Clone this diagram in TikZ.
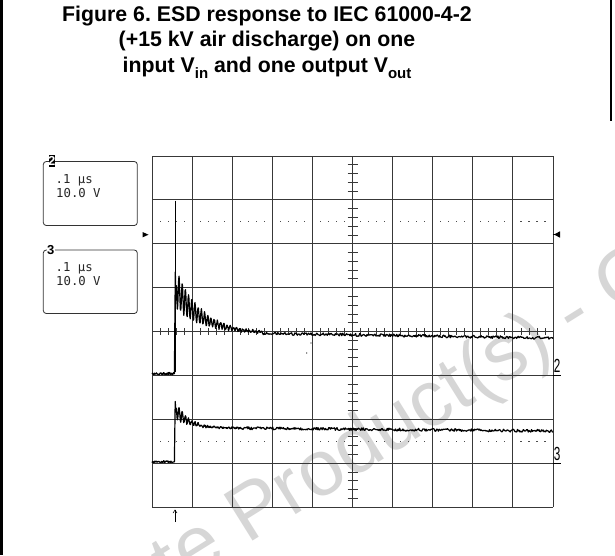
\documentclass[tikz,border=0pt]{standalone}
\usepackage{fontspec}
\setmainfont{Liberation Sans}
\newfontfamily\scopemono{DejaVu Sans Mono}
\usetikzlibrary{arrows.meta}
\frenchspacing
\begin{document}
\begin{tikzpicture}[x=1pt,y=1pt,line join=round,
  gridline/.style={draw=black!78,line width=0.9pt},
  tickline/.style={draw=black!78,line width=0.8pt},
  trace/.style={draw=black,line width=1.2pt},
  infobox/.style={draw=black!80,line width=0.8pt,rounded corners=3pt},
  infotext/.style={font=\scopemono\fontsize{12.3}{14}\selectfont,anchor=base west,inner sep=0pt,text=black!85},
  titletext/.style={font=\bfseries\fontsize{21.3}{25}\selectfont,anchor=base,inner sep=0pt},
  gndlabel/.style={anchor=base west,inner sep=0pt,font=\fontsize{19}{19}\selectfont}]
\useasboundingbox (0,0) rectangle (615,-555);
\fill[white] (0,0) rectangle (615,-555);
% watermark
\begin{scope}
\clip (0,0) rectangle (615,-555);
\node[anchor=base west,rotate=32,text=black!16,inner sep=0pt,font=\fontsize{79}{79}\selectfont] (wm) at (-39.7,-724.2) {Obsolete Product(s) - Obsolete Product(s)};
\end{scope}
% frame
\draw[line width=2.5pt] (1.25,0) -- (1.25,-555);
\draw[line width=2pt] (611,0) -- (611,-121);
% title
\node[titletext] (t1) at (267,-21) {Figure 6. ESD response to IEC 61000-4-2};
\node[titletext] (t2) at (267,-46.5) {(+15 kV air discharge) on one};
\node[titletext] (t3) at (267,-72) {input V\raisebox{-0.3em}{\fontsize{15}{15}\selectfont in} and one output V\raisebox{-0.3em}{\fontsize{15}{15}\selectfont out}};
% grid
\foreach \i in {0,...,10} \draw[gridline] ({152+\i*40.1},-156) -- ({152+\i*40.1},-507);
\foreach \j in {0,...,8} \draw[gridline] (152,{-156-\j*43.875}) -- (553,{-156-\j*43.875});
% center ticks
\foreach \k in {1,...,39} {
  \pgfmathtruncatemacro\m{mod(\k,5)}
  \ifnum\m>0 \draw[tickline] (347.5,{-156-\k*8.775}) -- (357.5,{-156-\k*8.775}); \fi
}
\foreach \k in {1,...,49} {
  \pgfmathtruncatemacro\m{mod(\k,5)}
  \ifnum\m>0 \draw[tickline] ({152+\k*8.02},-328) -- ({152+\k*8.02},-335); \fi
}
% dotted level lines
\foreach \k in {1,...,49} {
  \pgfmathtruncatemacro\m{mod(\k,5)}
  \ifnum\m>0
    \fill[black!70] ({152+\k*8.02-0.5},-221.3) rectangle +(1.1,-1.1);
    \fill[black!70] ({152+\k*8.02-0.5},-440.7) rectangle +(1.1,-1.1);
  \fi
}
% trigger markers
\fill (142.5,-232) -- (148.5,-234.7) -- (142.5,-237.4) -- cycle;
\fill (554,-234.5) -- (560,-231.3) -- (560,-237.7) -- cycle;
\draw[line width=0.8pt] (552.7,-234.5) -- (555,-234.5);
% ground labels
\node[gndlabel] (g2) at (553.6,-372) {\scalebox{0.62}[1]{2}};
\draw[line width=0.9pt] (552.7,-375.4) -- (561,-375.4);
\node[gndlabel] (g3) at (553.6,-460) {\scalebox{0.62}[1]{3}};
\draw[line width=0.9pt] (552.7,-463.1) -- (561,-463.1);
% trigger position arrow
\coordinate (arrbot) at (175,-522);
\coordinate (arrtop) at (175,-509.5);
\draw[line width=0.6pt,-{Straight Barb[length=3pt,width=4pt]}] (arrbot) -- (arrtop);
% info boxes
\draw[infobox] (43.3,-161.5) rectangle (137.3,-225.5);
\fill[black] (48.5,-154.8) rectangle (55.2,-166.6);
\node[inner sep=0pt,text=white,font=\bfseries\fontsize{13}{13}\selectfont] (lab2) at (51.85,-160.7) {2};
\node[infotext] (b2l1) at (55.5,-183) {.1 µs};
\node[infotext] (b2l2) at (56,-197) {10.0 V};
\draw[infobox] (43.3,-250) rectangle (137.3,-313.5);
\node[inner sep=0.6pt,fill=white,text=black,font=\bfseries\fontsize{13}{13}\selectfont] (lab3) at (50.8,-250.5) {3};
\node[infotext] (b3l1) at (55.5,-271.5) {.1 µs};
\node[infotext] (b3l2) at (56,-285.5) {10.0 V};
% traces
\pgfmathsetseed{7}
\draw[line width=0.9pt] (175,-200.7) -- (175,-372);
\draw[trace] plot[domain=152:174.4,samples=46] (\x,{-(373.6+1.1*rand)})
  -- (175.3,-272) -- (176,-300)
  -- plot[domain=176.5:262,samples=200] (\x,{-(332+6*(\x-175)/378-45*exp(-(\x-175)/25)*(1+0.45*sin(112.5*(\x-175)))+1.1*rand)})
  -- plot[domain=262.5:553,samples=360] (\x,{-(332+6*(\x-175)/378+1.4*rand)});
\draw[trace] plot[domain=152:174.4,samples=46] (\x,{-(461.8+1.0*rand)})
  -- (175.2,-401.5) -- (176,-412)
  -- plot[domain=176.5:240,samples=150] (\x,{-(427.5+3.5*(\x-175)/378-19*exp(-(\x-175)/12)*(1+0.5*sin(112.5*(\x-175)))+1.0*rand)})
  -- plot[domain=240.5:553,samples=380] (\x,{-(427.5+3.5*(\x-175)/378+1.4*rand)});
\fill (311,-343) circle (0.6);
\fill (306.7,-353) circle (0.6);
\end{tikzpicture}
\end{document}
